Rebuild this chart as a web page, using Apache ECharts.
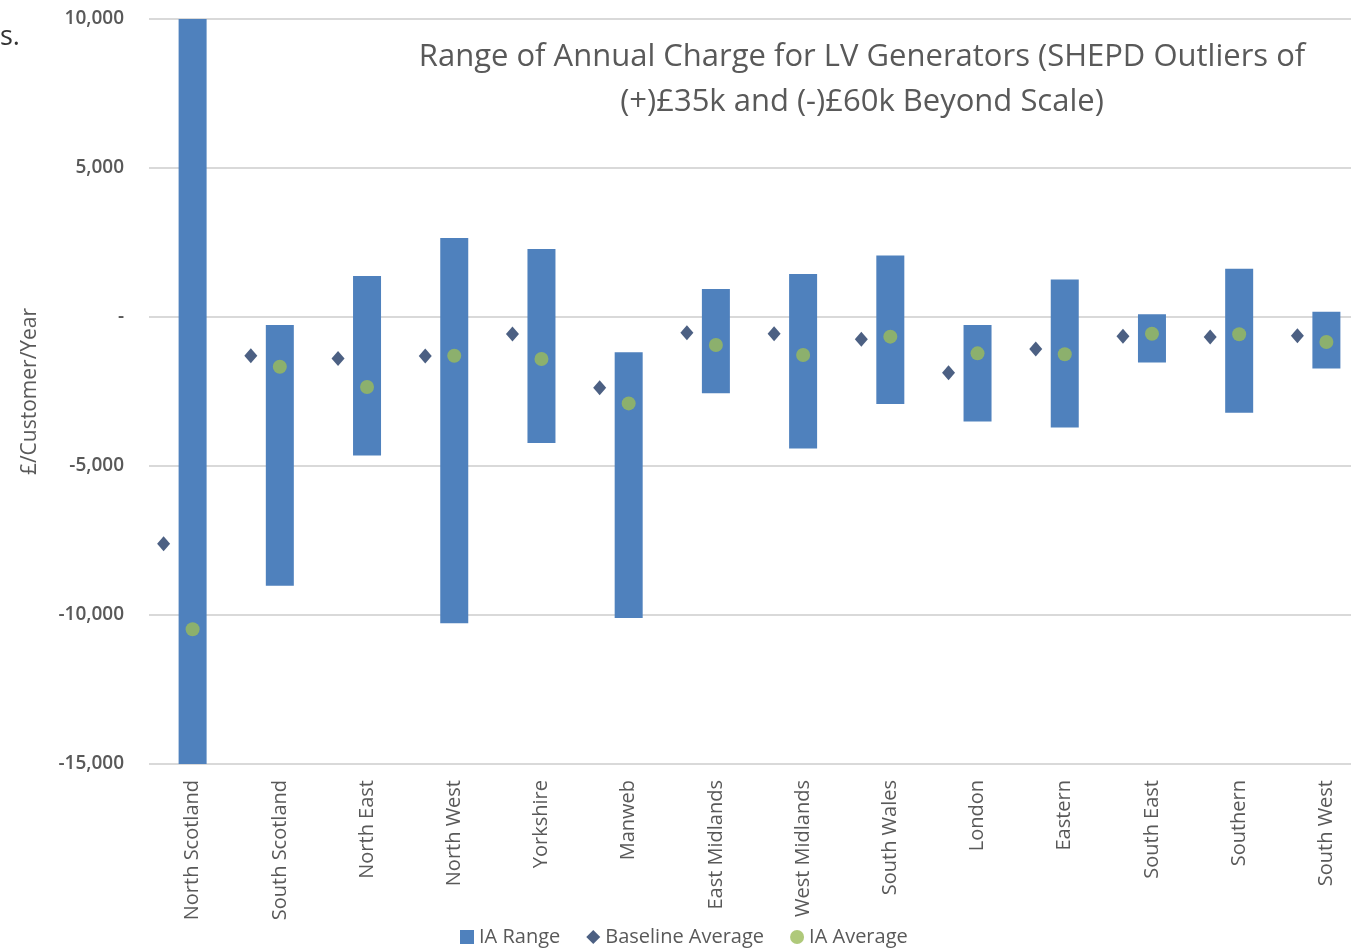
<!DOCTYPE html>
<html>
<head>
<meta charset="utf-8">
<script src="https://cdn.jsdelivr.net/npm/echarts@6/dist/echarts.min.js"></script>
<style>
  html, body { margin: 0; padding: 0; background: #fff; overflow: hidden; }
  #main { width: 1370px; height: 950px; }
</style>
</head>
<body>
<div id="main"></div>
<script>
var regions = ['North Scotland', 'South Scotland', 'North East', 'North West', 'Yorkshire', 'Manweb',
  'East Midlands', 'West Midlands', 'South Wales', 'London', 'Eastern', 'South East', 'Southern', 'South West']
// IA range low / high (SHEPD beyond scale)
var rangeLow = [-60000, -9020, -4650, -10280, -4230, -10100, -2560, -4410, -2920, -3510, -3710, -1530, -3210, -1730]
var rangeHigh = [35000, -270, 1380, 2650, 2280, -1185, 940, 1440, 2060, -270, 1260, 90, 1620, 180]
var baselineAvg = [-7610, -1300, -1390, -1310, -570, -2370, -530, -560, -750, -1870, -1075, -650, -670, -630]
var iaAvg = [-10480, -1670, -2350, -1300, -1410, -2900, -940, -1275, -660, -1220, -1250, -560, -580, -840]

var txt = '#595959'
var font = 'Open Sans'

var chart = echarts.init(document.getElementById('main'))
chart.setOption({
  animation: false,
  title: {
    text: 'Range of Annual Charge for LV Generators (SHEPD Outliers of\n(+)£35k and (-)£60k Beyond Scale)',
    left: 857,
    top: 30,
    textAlign: 'center',
    textStyle: { color: txt, fontFamily: font, fontSize: 31, fontWeight: 'normal', lineHeight: 45 }
  },
  graphic: [{
    type: 'text', left: 0, top: 24,
    style: { text: 's.', fontSize: 27, fontFamily: font, fill: '#333' }
  }],
  legend: {
    bottom: -2,
    left: 455,
    itemWidth: 14,
    itemHeight: 14,
    itemGap: 26,
    textStyle: { color: txt, fontFamily: font, fontSize: 20 },
    data: [
      { name: 'IA Range', icon: 'rect' },
      { name: 'Baseline Average', icon: 'diamond' },
      { name: 'IA Average', icon: 'circle' }
    ]
  },
  grid: { left: 149, top: 19, right: 0, height: 745 },
  xAxis: {
    type: 'category',
    data: regions,
    axisTick: { show: false },
    axisLine: { show: false },
    axisLabel: { rotate: 90, color: txt, fontFamily: font, fontSize: 20, margin: 16, interval: 0 }
  },
  yAxis: {
    type: 'value',
    min: -15000,
    max: 10000,
    interval: 5000,
    name: '£/Customer/Year',
    nameLocation: 'middle',
    nameGap: 108,
    nameTextStyle: { color: txt, fontFamily: font, fontSize: 21 },
    axisLine: { show: false },
    axisTick: { show: false },
    splitLine: { lineStyle: { color: '#d9d9d9', width: 2 } },
    axisLabel: {
      color: txt, fontFamily: font, fontSize: 19, fontWeight: 600, margin: 25,
      formatter: function (v) { return v === 0 ? '-' : v.toLocaleString('en-GB') }
    }
  },
  series: [
    {
      name: 'IA Range',
      type: 'custom',
      clip: true,
      itemStyle: { color: '#4f81bd' },
      data: regions.map(function (r, i) { return [i, rangeLow[i], rangeHigh[i]] }),
      encode: { x: 0, y: [1, 2] },
      renderItem: function (params, api) {
        var lo = api.coord([api.value(0), api.value(1)])
        var hi = api.coord([api.value(0), api.value(2)])
        var w = 28
        return {
          type: 'rect',
          shape: { x: lo[0] - w / 2, y: hi[1], width: w, height: lo[1] - hi[1] },
          style: { fill: '#4f81bd' }
        }
      }
    },
    {
      name: 'Baseline Average',
      type: 'scatter',
      symbol: 'diamond',
      symbolSize: [13, 15],
      symbolOffset: [-29, 0],
      itemStyle: { color: '#1f3864' },
      data: baselineAvg,
      z: 3
    },
    {
      name: 'IA Average',
      type: 'scatter',
      symbol: 'circle',
      symbolSize: 14,
      itemStyle: { color: '#9bbb59' },
      data: iaAvg,
      z: 4
    }
  ]
})
</script>
</body>
</html>
